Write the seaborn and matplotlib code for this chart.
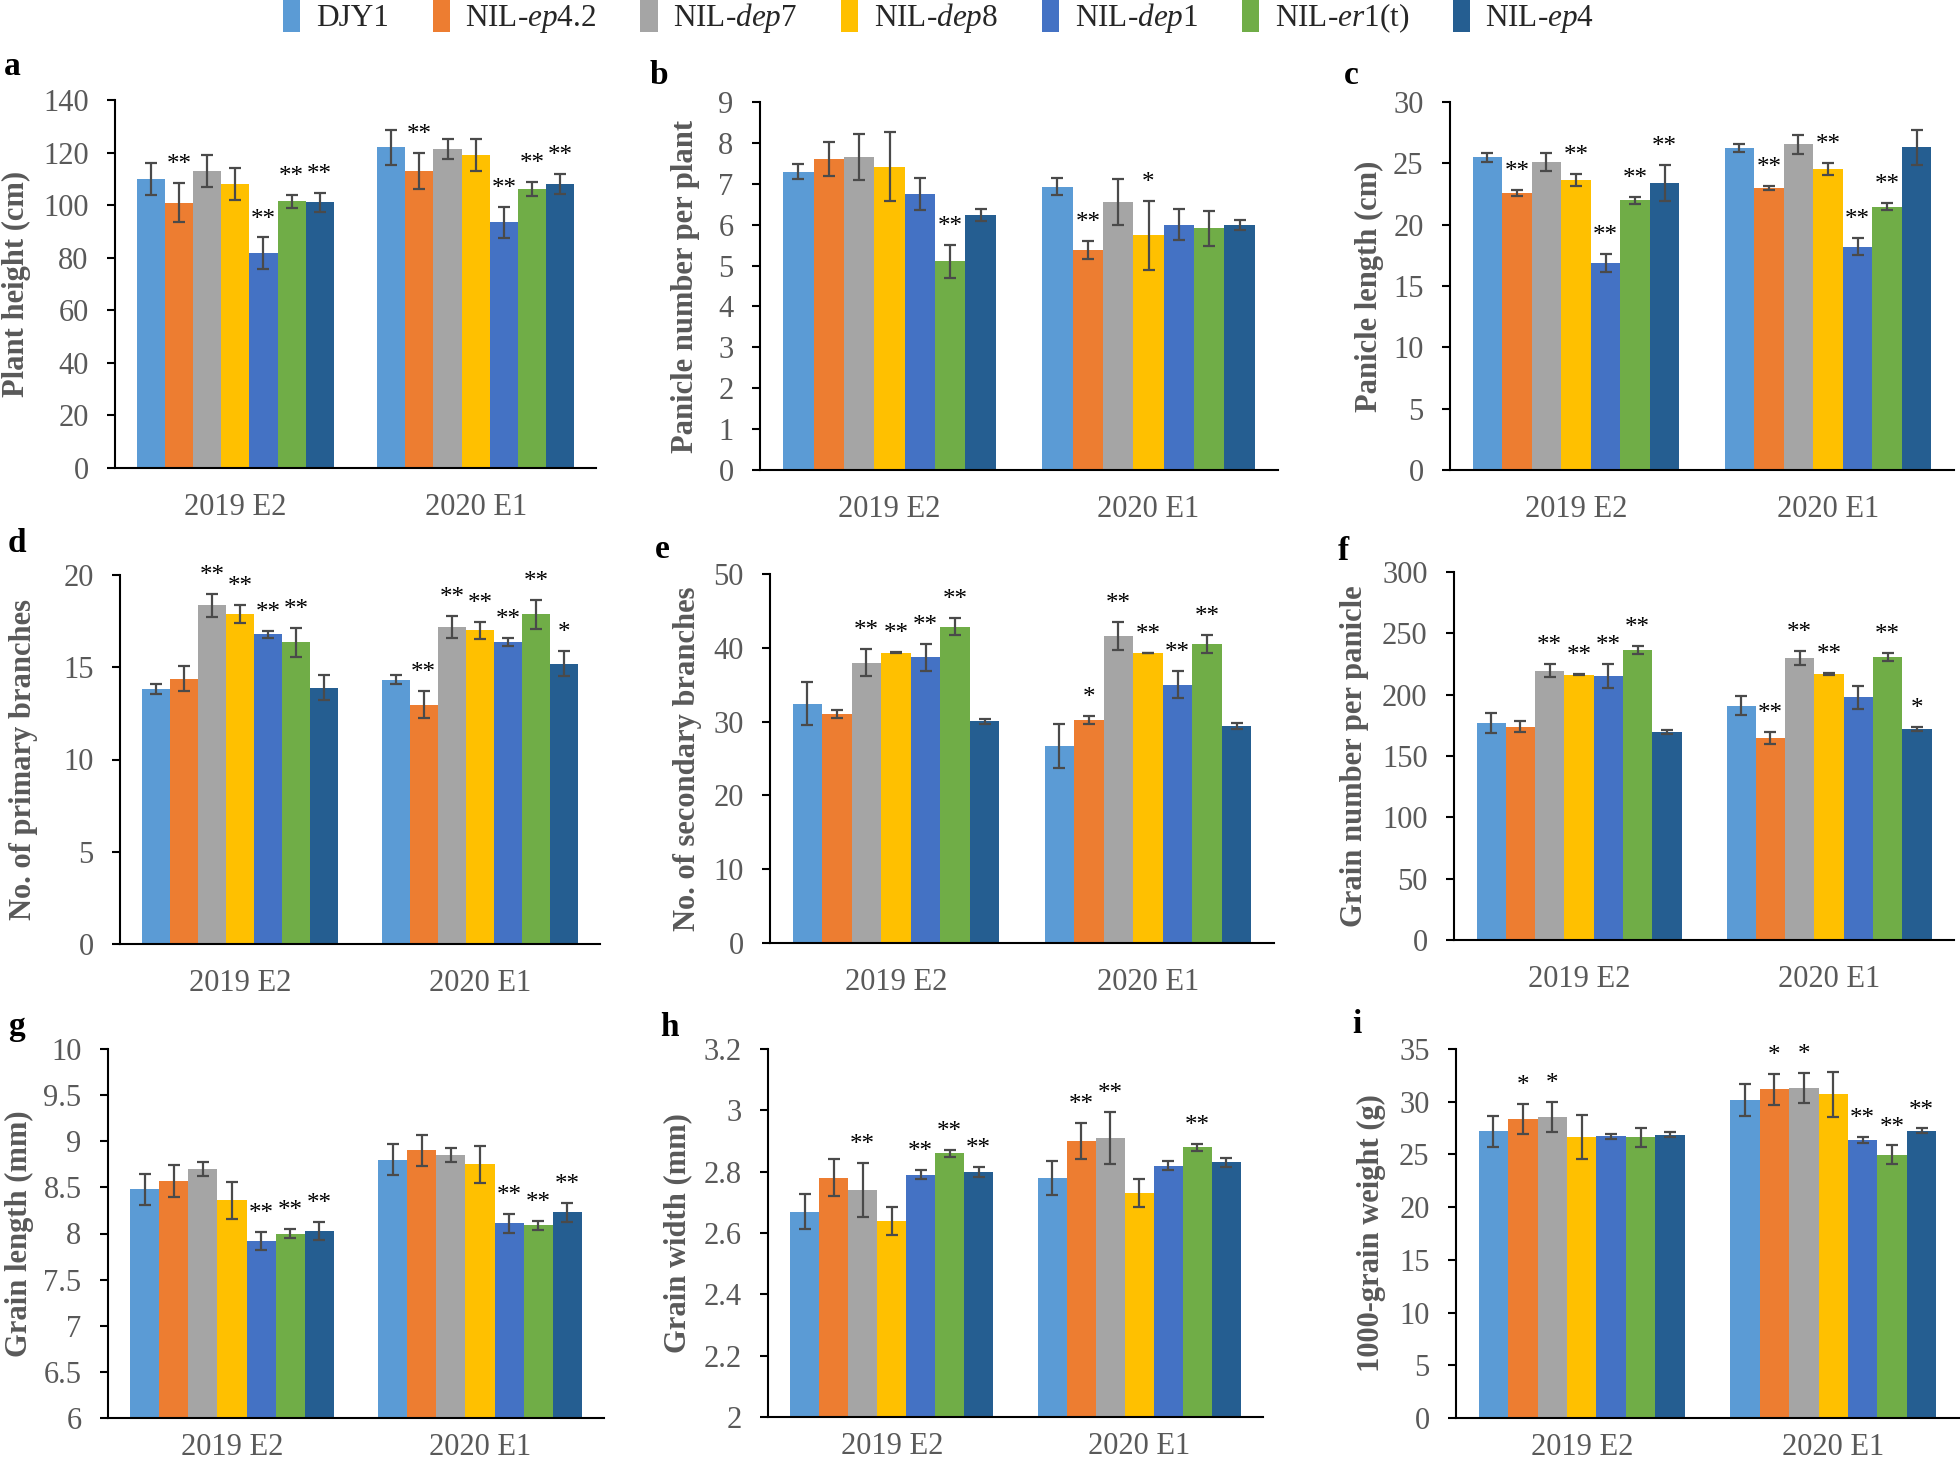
"""
    Yield-trait comparison of DJY1 and seven NILs over two seasons
"""
import numpy as np
import pandas as pd
import seaborn as sns
import matplotlib.pyplot as plt
from matplotlib.patches import Patch
from matplotlib.ticker import MultipleLocator, FuncFormatter

lines = ['DJY1', 'NIL-ep4.2', 'NIL-dep7', 'NIL-dep8', 'NIL-dep1', 'NIL-er1(t)', 'NIL-ep4']
legend_labels = ['DJY1', 'NIL-$\\mathit{ep4.2}$', 'NIL-$\\mathit{dep7}$', 'NIL-$\\mathit{dep8}$',
                 'NIL-$\\mathit{dep1}$', 'NIL-$\\mathit{er1}$(t)', 'NIL-$\\mathit{ep4}$']
seasons = ['2019 E2', '2020 E1']
colors = ['#5B9BD5', '#ED7D31', '#A5A5A5', '#FFC000', '#4472C4', '#70AD47', '#255E91']

# one row per season, one value per line (order as in `lines`)
plant_height_mean = [[110.0, 101.0, 113.0, 108.0, 81.7, 101.4, 101.1],
                     [122.0, 113.1, 121.4, 119.1, 93.4, 106.2, 108.2]]
plant_height_sd = [[6.0, 7.5, 6.0, 6.0, 6.0, 2.5, 3.7],
                   [6.7, 6.9, 3.7, 6.0, 6.0, 2.7, 3.8]]
plant_height_sig = [['', '**', '', '', '**', '**', '**'],
                    ['', '**', '', '', '**', '**', '**']]

panicle_num_mean = [[7.30, 7.60, 7.66, 7.42, 6.75, 5.10, 6.24],
                    [6.93, 5.38, 6.55, 5.74, 6.00, 5.91, 6.00]]
panicle_num_sd = [[0.19, 0.41, 0.56, 0.85, 0.39, 0.41, 0.14],
                  [0.20, 0.21, 0.57, 0.85, 0.38, 0.42, 0.12]]
panicle_num_sig = [['', '', '', '', '', '**', ''],
                   ['', '**', '', '*', '', '', '']]

panicle_len_mean = [[25.49, 22.61, 25.10, 23.64, 16.88, 21.98, 23.40],
                    [26.25, 22.99, 26.55, 24.54, 18.20, 21.47, 26.30]]
panicle_len_sd = [[0.38, 0.25, 0.73, 0.46, 0.70, 0.30, 1.46],
                  [0.35, 0.20, 0.76, 0.49, 0.70, 0.27, 1.44]]
panicle_len_sig = [['', '**', '', '**', '**', '**', '**'],
                   ['', '**', '', '**', '**', '**', '']]

primary_mean = [[13.83, 14.39, 18.35, 17.88, 16.78, 16.35, 13.89],
                [14.32, 12.98, 17.20, 17.00, 16.38, 17.88, 15.19]]
primary_sd = [[0.27, 0.70, 0.60, 0.47, 0.20, 0.79, 0.67],
              [0.25, 0.72, 0.60, 0.47, 0.22, 0.78, 0.67]]
primary_sig = [['', '', '**', '**', '**', '**', ''],
               ['', '**', '**', '**', '**', '**', '*']]

secondary_mean = [[32.43, 31.03, 37.98, 39.34, 38.70, 42.86, 30.04],
                  [26.69, 30.22, 41.60, 39.30, 35.00, 40.56, 29.40]]
secondary_sd = [[2.90, 0.50, 1.85, 0.05, 1.85, 1.18, 0.30],
                [2.98, 0.50, 1.90, 0.05, 1.85, 1.22, 0.36]]
secondary_sig = [['', '', '**', '**', '**', '**', ''],
                 ['', '*', '**', '**', '**', '**', '']]

grain_num_mean = [[177.0, 173.8, 219.7, 216.4, 215.6, 236.2, 169.7],
                  [191.1, 164.5, 230.2, 216.9, 197.7, 230.5, 172.1]]
grain_num_sd = [[7.9, 4.6, 5.7, 0.6, 9.8, 3.3, 1.4],
                [7.6, 4.9, 5.7, 0.8, 9.5, 3.3, 1.6]]
grain_num_sig = [['', '', '**', '**', '**', '**', ''],
                 ['', '**', '**', '**', '', '**', '*']]

grain_len_mean = [[8.48, 8.57, 8.70, 8.36, 7.92, 8.00, 8.03],
                  [8.80, 8.90, 8.85, 8.75, 8.11, 8.09, 8.23]]
grain_len_sd = [[0.17, 0.17, 0.08, 0.20, 0.10, 0.05, 0.10],
                [0.17, 0.17, 0.08, 0.20, 0.10, 0.05, 0.10]]
grain_len_sig = [['', '', '', '', '**', '**', '**'],
                 ['', '', '', '', '**', '**', '**']]

grain_wid_mean = [[2.67, 2.78, 2.74, 2.64, 2.79, 2.86, 2.80],
                  [2.78, 2.90, 2.91, 2.73, 2.82, 2.88, 2.83]]
grain_wid_sd = [[0.056, 0.060, 0.087, 0.045, 0.015, 0.011, 0.016],
                [0.055, 0.060, 0.085, 0.045, 0.015, 0.011, 0.016]]
grain_wid_sig = [['', '', '**', '', '**', '**', '**'],
                 ['', '**', '**', '', '', '**', '']]

tgw_mean = [[27.18, 28.35, 28.54, 26.64, 26.73, 26.64, 26.89],
            [30.16, 31.17, 31.30, 30.69, 26.35, 24.99, 27.24]]
tgw_sd = [[1.50, 1.45, 1.40, 2.06, 0.25, 0.89, 0.22],
          [1.52, 1.49, 1.42, 2.15, 0.28, 0.86, 0.22]]
tgw_sig = [['', '*', '*', '', '', '', ''],
           ['', '*', '*', '', '**', '**', '**']]

W, H = 1960, 1465
GREY = '#595959'

# letter, y label, data, y range and step, axes box in px (left, top, right, bottom),
# right edge of y label in px, letter position in px, x tick label pad
panels = [
    ('a', 'Plant height (cm)', plant_height_mean, plant_height_sd, plant_height_sig,
     0, 140, 20, (115, 100, 596, 468), 31, (4, 75), 18),
    ('b', 'Panicle number per plant', panicle_num_mean, panicle_num_sd, panicle_num_sig,
     0, 9, 1, (760, 102, 1278, 470), 700, (650, 84), 18),
    ('c', 'Panicle length (cm)', panicle_len_mean, panicle_len_sd, panicle_len_sig,
     0, 30, 5, (1450, 102, 1954, 470), 1384, (1344, 84), 18),
    ('d', 'No. of primary branches', primary_mean, primary_sd, primary_sig,
     0, 20, 5, (120, 575, 600, 944), 38, (8, 552), 18),
    ('e', 'No. of secondary branches', secondary_mean, secondary_sd, secondary_sig,
     0, 50, 10, (770, 574, 1274, 943), 702, (655, 558), 18),
    ('f', 'Grain number per panicle', grain_num_mean, grain_num_sd, grain_num_sig,
     0, 300, 50, (1454, 572, 1954, 940), 1369, (1338, 560), 18),
    ('g', 'Grain length (mm)', grain_len_mean, grain_len_sd, grain_len_sig,
     6, 10, 0.5, (108, 1049, 604, 1418), 34, (8, 1035), 11),
    ('h', 'Grain width (mm)', grain_wid_mean, grain_wid_sd, grain_wid_sig,
     2, 3.2, 0.2, (768, 1049, 1263, 1417), 692, (660, 1036), 11),
    ('i', '1000-grain weight (g)', tgw_mean, tgw_sd, tgw_sig,
     0, 35, 5, (1456, 1049, 1959, 1418), 1386, (1352, 1033), 11),
]

sns.set_style('white')
plt.rcParams['font.family'] = ['Liberation Serif', 'DejaVu Serif']
plt.rcParams['mathtext.fontset'] = 'custom'
plt.rcParams['mathtext.rm'] = 'Liberation Serif'
plt.rcParams['mathtext.it'] = 'Liberation Serif:italic'
plt.rcParams['mathtext.bf'] = 'Liberation Serif:bold'

fig = plt.figure(figsize=(W / 100, H / 100), dpi=100)

for letter, ylabel, mean, sd, sig, ymin, ymax, step, box, lab_x, let_xy, xpad in panels:
    l, t, r, b = box
    ax = fig.add_axes([l / W, 1 - b / H, (r - l) / W, (b - t) / H])

    df = pd.DataFrame({
        'Season': np.repeat(seasons, len(lines)),
        'Line': lines * len(seasons),
        'Value': np.ravel(mean),
        'SD': np.ravel(sd),
        'Sig': np.ravel(sig),
    })
    sns.barplot(data=df, x='Season', y='Value', hue='Line', order=seasons, hue_order=lines,
                palette=colors, saturation=1, width=0.82, errorbar=None, legend=False,
                linewidth=0, ax=ax)

    # bars sorted left to right follow the season-major / line-minor row order
    bars = sorted(ax.patches, key=lambda p: p.get_x())
    xs = [p.get_x() + p.get_width() / 2 for p in bars]
    ax.errorbar(xs, df['Value'], yerr=df['SD'], fmt='none', ecolor='#4a4a4a',
                elinewidth=1.6, capsize=4, capthick=1.6, zorder=3)
    for x, v, e, s in zip(xs, df['Value'], df['SD'], df['Sig']):
        if s:
            ax.annotate(s, (x, v + e), xytext=(0, 5), textcoords='offset points',
                        ha='center', va='bottom', fontsize=18, color='black')

    ax.set_xlim(-0.5, 1.5)
    ax.set_ylim(ymin, ymax)
    ax.yaxis.set_major_locator(MultipleLocator(step))
    ax.yaxis.set_major_formatter(FuncFormatter(lambda v, pos: f'{round(v, 3):g}'))
    ax.set_xticks([0, 1])
    ax.set_xticklabels(seasons)
    ax.set_xticks([-0.5, 0.5, 1.5], minor=True)
    ax.tick_params(axis='x', which='major', length=0, pad=xpad, labelsize=22, labelcolor=GREY)
    ax.tick_params(axis='x', which='minor', length=7, width=1.5, direction='out', color='black')
    ax.tick_params(axis='y', length=6, width=1.5, direction='out', pad=13, labelsize=22,
                   labelcolor=GREY, color='black', left=True)

    sns.despine(ax=ax)
    for side in ['left', 'bottom']:
        ax.spines[side].set_linewidth(1.5)
        ax.spines[side].set_color('black')

    ax.set_xlabel('')
    ax.set_ylabel(ylabel, fontsize=22, fontweight='bold', color=GREY)
    ax.yaxis.set_label_coords((lab_x - l) / (r - l), 0.5)

    fig.text(let_xy[0] / W, 1 - let_xy[1] / H, letter, fontsize=24, fontweight='bold',
             ha='left', va='baseline', color='black')

handles = [Patch(facecolor=c, edgecolor='none') for c in colors]
fig.legend(handles, legend_labels, loc='center', bbox_to_anchor=(0.479, 0.988), ncol=7,
           frameon=False, fontsize=22.5, handlelength=0.55, handleheight=1.2,
           handletextpad=0.5, columnspacing=1.4)

fig.savefig('out.png', dpi=100)
